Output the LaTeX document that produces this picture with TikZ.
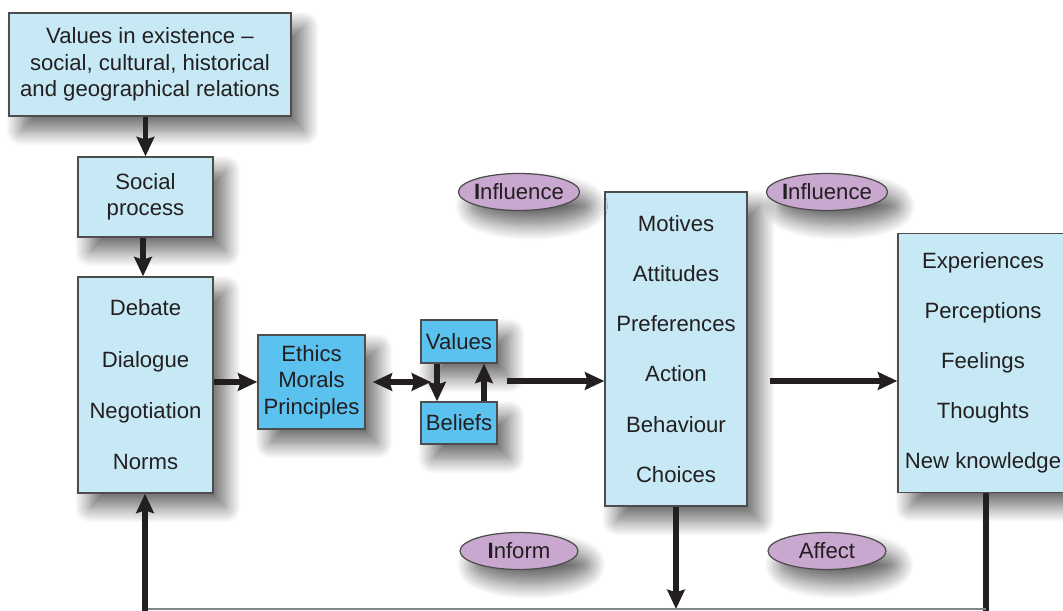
\documentclass[tikz,border=0pt]{standalone}
\usepackage{fontspec}
\setmainfont{Liberation Sans}
\usepackage{xcolor}
\usepackage{tikz}
\usetikzlibrary{arrows.meta,shapes.geometric,shadows.blur}
\definecolor{boxlight}{HTML}{C6E9F5}
\definecolor{boxdark}{HTML}{5BC1EE}
\definecolor{oval}{HTML}{C9A8D0}
\definecolor{ink}{HTML}{231F20}
\tikzset{
  shad/.style={blur shadow={shadow xshift=7pt,shadow yshift=-8pt,shadow blur radius=9pt,shadow blur steps=16,shadow opacity=60}},
  box/.style={draw=ink!80,line width=0.8pt,fill=boxlight,inner sep=0pt,align=center,text=ink,shad},
  dbox/.style={box,fill=boxdark},
  bubble/.style={ellipse,draw=ink!80,line width=0.7pt,fill=oval,inner xsep=-1.2pt,inner ysep=0pt,text=ink,minimum width=2.36cm,minimum height=0.74cm,shad},
  arr/.style={draw=ink,line width=3.3pt,-{Stealth[length=11pt,width=10pt,inset=1.5pt]}},
  darr/.style={draw=ink,line width=3.3pt,{Stealth[length=11pt,width=10pt,inset=1.5pt]}-{Stealth[length=11pt,width=10pt,inset=1.5pt]}}
}
\begin{document}
\begin{tikzpicture}[line cap=butt,line join=miter,x=0.02cm,y=-0.02cm,font=\fontsize{12.6}{15}\selectfont]
\useasboundingbox (0,0) rectangle (1063,611);
% boxes
\node[box,minimum width=5.64cm,minimum height=2.06cm] (exist) at (150,64.5) {Values in existence --\\social, cultural, historical\\and geographical relations};
\node[box,minimum width=2.7cm,minimum height=1.6cm] (social) at (145.5,197) {Social\\process};
\node[box,minimum width=2.7cm,minimum height=4.32cm] (debate) at (145.5,385) {Debate\\[14.2pt]Dialogue\\[14.2pt]Negotiation\\[14.2pt]Norms};
\node[dbox,minimum width=2.14cm,minimum height=1.88cm] (ethics) at (311.5,382) {Ethics\\Morals\\Principles};
\node[dbox,minimum width=1.52cm,minimum height=0.86cm] (values) at (459,341.5) {Values};
\node[dbox,minimum width=1.52cm,minimum height=0.84cm] (beliefs) at (459,423) {Beliefs};
\node[box,minimum width=2.84cm,minimum height=6.28cm] (motives) at (676,349) {Motives\\[13.5pt]Attitudes\\[13.5pt]Preferences\\[13.5pt]Action\\[13.5pt]Behaviour\\[13.5pt]Choices};
\node[box,minimum width=3.4cm,minimum height=5.18cm] (outcome) at (983,363) {Experiences\\[13.5pt]Perceptions\\[13.5pt]Feelings\\[13.5pt]Thoughts\\[13.5pt]New knowledge};
% ovals
\node[bubble] (infl1) at (519,192) {{\bfseries I}nfluence};
\node[bubble] (infl2) at (827,192) {{\bfseries I}nfluence};
\node[bubble] (inform) at (519,551) {{\bfseries I}nform};
\node[bubble] (affect) at (827,551) {Affect};
% free ends
\coordinate (vb) at (431,382);
\coordinate (vbout) at (507,381);
\coordinate (mout) at (770,381);
\coordinate (mdown) at (676,609);
\coordinate (odown) at (986,611);
\coordinate (lup) at (145,611);
\coordinate (lcorner) at (145,609);
\coordinate (rcorner) at (986,609);
% connectors
\draw[arr] (social |- exist.south) -- (social.north);
\draw[arr] ([xshift=-0.05cm]social.south) -- ([xshift=-0.05cm]debate.north);
\draw[arr] (debate.east |- ethics) -- (ethics.west);
\draw[darr] ([xshift=4pt]ethics.east) -- (vb);
\draw[arr] ([xshift=-0.44cm]values.south) -- ([xshift=-0.44cm]beliefs.north);
\draw[arr] ([xshift=0.5cm]beliefs.north) -- ([xshift=0.5cm]values.south);
\draw[arr] (vbout) -- (motives.west |- vbout);
\draw[arr] (mout) -- (outcome.west |- mout);
\draw[arr] (motives.south) -- (mdown);
\draw[draw=ink,line width=3.3pt] (outcome.south -| odown) -- (odown);
\draw[draw=ink!55,line width=1pt] (lcorner) -- (rcorner);
\draw[arr] (lup) -- (debate.south -| lup);
\end{tikzpicture}
\end{document}
